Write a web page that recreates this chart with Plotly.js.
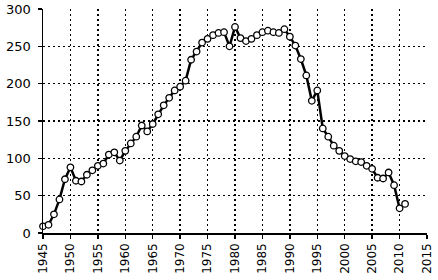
<!DOCTYPE html>
<html>
<head>
<meta charset="utf-8">
<script src="https://cdn.plot.ly/plotly-3.0.1.min.js"></script>
<style>
html,body{margin:0;padding:0;background:#fff;}
#chart{width:438px;height:280px;}
</style>
</head>
<body>
<div id="chart"></div>
<script>
const years = [1945,1946,1947,1948,1949,1950,1951,1952,1953,1954,1955,1956,1957,1958,1959,
1960,1961,1962,1963,1964,1965,1966,1967,1968,1969,1970,1971,1972,1973,1974,1975,1976,1977,1978,1979,
1980,1981,1982,1983,1984,1985,1986,1987,1988,1989,1990,1991,1992,1993,1994,1995,1996,1997,1998,1999,
2000,2001,2002,2003,2004,2005,2006,2007,2008,2009,2010,2011];
const values = [9,11,25,45,72,88,70,69,78,84,90,93,105,108,97,
110,120,129,144,136,146,159,171,181,191,196,204,232,243,255,260,265,268,269,250,
276,261,257,260,265,269,271,269,268,273,263,251,233,211,177,191,140,129,117,110,
103,99,96,95,90,86,74,73,81,64,33,39];
const xTicks = [1945,1950,1955,1960,1965,1970,1975,1980,1985,1990,1995,2000,2005,2010,2015];
const yTicks = [0,50,100,150,200,250,300];

const trace = {
  x: years, y: values, type: 'scatter', mode: 'lines+markers',
  line: {color: '#000', width: 2.5},
  marker: {symbol: 'circle', size: 6.5, color: '#fff', line: {color: '#000', width: 1.3}},
  cliponaxis: false, hoverinfo: 'skip'
};
const font = {family: 'DejaVu Sans', size: 12, color: '#000'};
const grid = {showgrid: true, gridcolor: '#000', gridwidth: 1.5, griddash: '2px,3px'};
const layout = {
  width: 438, height: 280,
  margin: {l: 43, r: 11, t: 9, b: 47, pad: 0},
  paper_bgcolor: '#fff', plot_bgcolor: '#fff',
  showlegend: false,
  font: font,
  xaxis: Object.assign({
    range: [1945, 2015], tickmode: 'array', tickvals: xTicks, ticktext: xTicks.map(String),
    tickangle: -90, ticks: 'outside', ticklen: 4, tickwidth: 1.5, tickcolor: '#000',
    showline: true, linecolor: '#000', linewidth: 1.5,
    zeroline: false, tickfont: font, fixedrange: true
  }, grid),
  yaxis: Object.assign({
    range: [0, 300], tickmode: 'array', tickvals: yTicks, ticktext: yTicks.map(String),
    ticks: 'outside', ticklen: 4, tickwidth: 1.5, tickcolor: '#000',
    showline: true, linecolor: '#000', linewidth: 1.5,
    zeroline: false, tickfont: {family: 'DejaVu Sans', size: 13, color: '#000'},
    ticklabelstandoff: 4, fixedrange: true
  }, grid)
};
Plotly.newPlot('chart', [trace], layout, {staticPlot: true, displayModeBar: false});
</script>
</body>
</html>
